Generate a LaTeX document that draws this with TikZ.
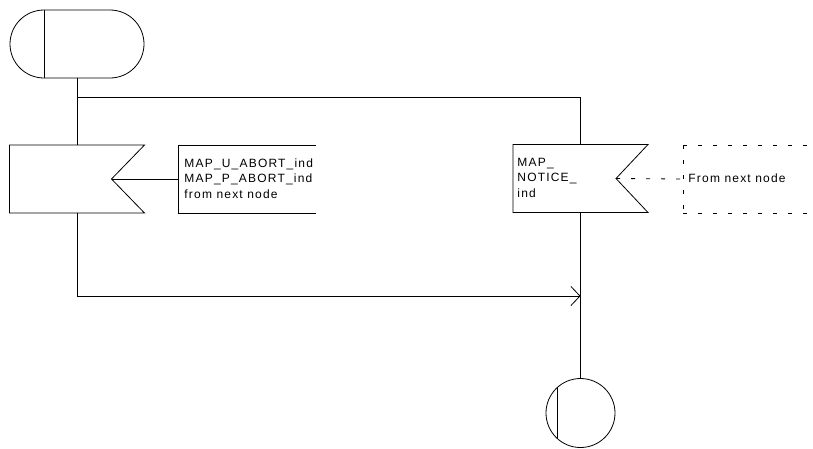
\documentclass[tikz,border=0pt]{standalone}
\usepackage{fontspec}
\newfontfamily\lbl[LetterSpace=10]{Liberation Sans}
\usetikzlibrary{arrows.meta}
\begin{document}
\begin{tikzpicture}[x=1pt,y=-1pt, line width=0.8pt,
  box/.style={minimum width=#1, minimum height=68pt, inner sep=0pt, outer sep=0pt},
  lab/.style={font=\lbl\fontsize{12}{15.5}\selectfont, align=left, anchor=base west, inner sep=0pt},
  dsh/.style={dash pattern=on 4pt off 11pt},
  tip/.style={-{Straight Barb[length=9pt,width=19pt]}}]
\useasboundingbox (0,0) rectangle (813,448);
% start terminal
\node[box=134pt, rounded corners=34pt, draw] (start) at (77,44) {};
\draw ([xshift=34pt]start.north west) -- ([xshift=34pt]start.south west);
% left input
\node[box=135pt] (in1) at (77,179) {};
\coordinate (n1) at ([xshift=-33pt]in1.east);
\draw (in1.north west) -- (in1.north east) -- (n1) -- (in1.south east) -- (in1.south west) -- cycle;
\node[box=138pt] (c1) at (247,179) {};
\draw (c1.north east) -- (c1.north west) -- (c1.south west) -- (c1.south east);
\node[lab] (t1) at (184,198) {MAP\_U\_ABORT\_ind\\MAP\_P\_ABORT\_ind\\from next node};
\draw (n1) -- (c1.west);
% right input
\node[box=135pt] (in2) at (580.5,178.5) {};
\coordinate (n2) at ([xshift=-32pt]in2.east);
\draw (in2.north west) -- (in2.north east) -- (n2) -- (in2.south east) -- (in2.south west) -- cycle;
\node[lab] (t2) at (517,197) {MAP\_\\NOTICE\_\\ind};
\node[box=130pt] (c2) at (748,179) {};
\draw[dsh] (c2.north west) -- (c2.north east);
\draw[dsh] (c2.north west) -- (c2.south west);
\draw[dsh] (c2.south west) -- (c2.south east);
\node[lab] (t3) at (688,182) {From next node};
\draw[dsh] (n2) -- (c2.west);
% connectors
\coordinate (j) at (77,97);
\coordinate (m) at (580.5,296);
\draw (start.south) -- (in1.north);
\draw (j) -| (in2.north);
\draw[tip] (in1.south) |- (m);
\node[circle, draw, minimum size=69pt, inner sep=0pt] (end) at (580.5,413) {};
\draw (in2.south) -- (end.north);
\draw (end.131) -- (end.229);
\end{tikzpicture}
\end{document}
